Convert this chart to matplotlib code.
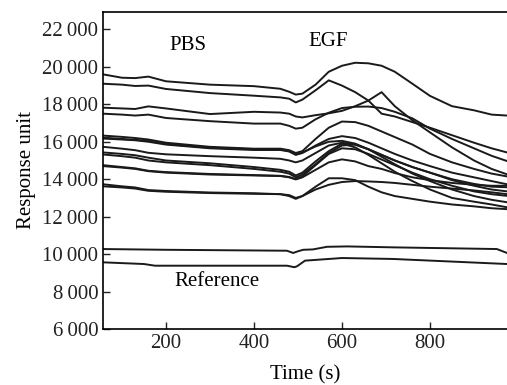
import matplotlib.pyplot as plt
from matplotlib.ticker import FuncFormatter

plt.rcParams['font.family'] = ['Liberation Serif', 'DejaVu Serif']

# time grid shared by the sensor traces (s)
t = [57, 100, 130, 160, 200, 300, 400, 460, 480, 495, 510, 540, 570, 600,
     630, 660, 690, 720, 760, 800, 850, 900, 940, 975]

# response units
trace_1 = [19600, 19420, 19400, 19480, 19230, 19050, 18970, 18830, 18670, 18520, 18570, 19050,
           19740, 20060, 20220, 20190, 20060, 19740, 19100, 18450, 17900, 17680, 17450, 17400]
trace_2 = [19100, 19050, 18980, 19000, 18820, 18600, 18460, 18370, 18300, 18100, 18250, 18750,
           19280, 19000, 18650, 18200, 17500, 17350, 17050, 16750, 16350, 15950, 15650, 15430]
trace_3 = [17820, 17780, 17750, 17890, 17780, 17480, 17600, 17560, 17500, 17350, 17300, 17420,
           17520, 17650, 17900, 18200, 18650, 17900, 17150, 16500, 15700, 15000, 14550, 14260]
trace_4 = [17500, 17450, 17400, 17450, 17270, 17100, 16970, 16970, 16850, 16700, 16750, 17200,
           17550, 17800, 17870, 17880, 17800, 17600, 17250, 16700, 16150, 15650, 15250, 14970]
trace_5 = [16330, 16260, 16200, 16120, 15950, 15730, 15630, 15630, 15550, 15400, 15500, 16150,
           16750, 17080, 17050, 16850, 16550, 16250, 15850, 15350, 14900, 14550, 14300, 14150]
trace_6 = [16170, 16120, 16080, 16000, 15850, 15650, 15560, 15560, 15480, 15300, 15400, 15800,
           16150, 16300, 16200, 15950, 15650, 15350, 15000, 14700, 14350, 14100, 13900, 13730]
trace_7 = [16220, 16150, 16100, 16050, 15880, 15680, 15600, 15590, 15500, 15320, 15420, 15750,
           16000, 16050, 15900, 15600, 15300, 15000, 14650, 14350, 13950, 13650, 13450, 13350]
trace_8 = [15730, 15630, 15550, 15410, 15330, 15230, 15150, 15090, 15000, 14900, 15000, 15400,
           15800, 15950, 15850, 15600, 15300, 15000, 14650, 14350, 14000, 13750, 13600, 13570]
trace_9 = [15320, 15230, 15150, 15000, 14900, 14750, 14550, 14400, 14300, 14100, 14250, 14800,
           15400, 15800, 15850, 15600, 15200, 14800, 14300, 13900, 13450, 13100, 12900, 12770]
trace_10 = [15430, 15350, 15280, 15150, 15000, 14850, 14650, 14500, 14400, 14200, 14350, 14950,
            15500, 15900, 15700, 15300, 14850, 14400, 13900, 13450, 13000, 12800, 12650, 12500]
trace_11 = [14700, 14620, 14550, 14430, 14350, 14250, 14200, 14170, 14100, 13990, 14100, 14500,
            14900, 15060, 14950, 14700, 14550, 14330, 14100, 13950, 13800, 13700, 13650, 13650]
trace_12 = [14750, 14650, 14580, 14450, 14380, 14280, 14220, 14180, 14120, 14000, 14150, 14750,
            15350, 15650, 15600, 15350, 15050, 14750, 14350, 14000, 13650, 13350, 13200, 13110]
trace_13 = [13730, 13620, 13560, 13420, 13370, 13290, 13250, 13200, 13150, 13000, 13100, 13600,
            14050, 14050, 13950, 13600, 13300, 13100, 12950, 12800, 12650, 12550, 12450, 12400]
trace_14 = [13620, 13560, 13500, 13380, 13330, 13260, 13220, 13200, 13100, 12950, 13100, 13450,
            13700, 13850, 13900, 13880, 13850, 13800, 13700, 13600, 13500, 13400, 13300, 13200]

# reference channels
t_ref_a = [57, 200, 475, 489, 500, 512, 534, 566, 612, 716, 952, 975]
ref_a = [10270, 10230, 10180, 10060, 10150, 10230, 10250, 10390, 10410, 10360, 10270, 10060]
t_ref_b = [57, 150, 175, 475, 492, 498, 516, 600, 716, 975]
ref_b = [9560, 9470, 9380, 9380, 9300, 9350, 9650, 9790, 9740, 9470]

traces = [trace_1, trace_2, trace_3, trace_4, trace_5, trace_6, trace_7,
          trace_8, trace_9, trace_10, trace_11, trace_12, trace_13, trace_14]

fig = plt.figure(figsize=(5.07, 3.85), dpi=100)
ax = fig.add_axes([0.2032, 0.1455, 0.7968, 0.8233])

for y in traces:
    ax.plot(t, y, color='#1a1a1a', lw=1.4)
ax.plot(t_ref_a, ref_a, color='#1a1a1a', lw=1.4)
ax.plot(t_ref_b, ref_b, color='#1a1a1a', lw=1.4)

ax.text(250, 21150, 'PBS', fontsize=15, ha='center', va='center')
ax.text(568, 21330, 'EGF', fontsize=15, ha='center', va='center')
ax.text(316, 8510, 'Reference', fontsize=15, ha='center', va='center')

ax.set_xlim(57, 975)
ax.set_ylim(6000, 22930)
ax.set_xticks([200, 400, 600, 800])
ax.set_yticks(range(6000, 22001, 2000))
ax.yaxis.set_major_formatter(FuncFormatter(lambda v, p: f"{int(v):,}".replace(',', '\u2009')))
ax.tick_params(direction='in', length=5, width=1, labelsize=15, colors='#222222')
ax.spines['right'].set_visible(False)
for s in ['left', 'top', 'bottom']:
    ax.spines[s].set_linewidth(1.2)

ax.set_xlabel('Time (s)', fontsize=15, labelpad=-2)
ax.set_ylabel('Response unit', fontsize=15, labelpad=4)
ax.xaxis.set_label_coords(0.5, -0.115)

fig.savefig('out.png', dpi=100)
